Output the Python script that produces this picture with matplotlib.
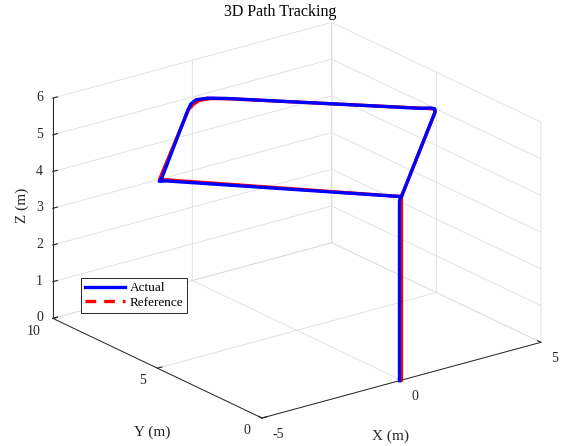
import numpy as np
import matplotlib
matplotlib.use('Agg')
import matplotlib.pyplot as plt
from matplotlib.lines import Line2D
from mpl_toolkits.mplot3d import proj3d

# ---------------- data ----------------
ref_x = [0.00, 0.00, 4.80, 4.95, 4.82, 0.75, 0.35, 0.00, -0.32, -0.70, -4.70, 0.00]
ref_y = [0.00, 0.00, 4.80, 5.02, 5.18, 9.25, 9.58, 9.66, 9.52, 9.25, 5.30, 0.00]
ref_z = [0.00, 5.00, 5.00, 5.00, 5.00, 5.00, 5.00, 5.00, 5.00, 5.00, 5.00, 5.00]

act_x = [-0.07, -0.07, -0.05, 0.05, 4.84, 4.97, 4.91, 4.70, 0.70, 0.30, -0.05, -0.38, -0.75, -4.58, -4.80, -4.62, -0.10, 0.00]
act_y = [0.00, 0.00, 0.00, 0.05, 4.84, 5.04, 5.17, 5.28, 9.32, 9.66, 9.76, 9.57, 9.22, 5.35, 5.18, 5.08, 0.10, 0.00]
act_z = [0.00, 4.85, 4.97, 5.00, 5.00, 5.00, 5.00, 5.00, 5.00, 5.00, 5.00, 5.00, 5.00, 5.00, 5.00, 5.00, 5.00, 5.00]

x_ticks = [-5, 0, 5]
y_ticks = [0, 5, 10]
z_ticks = [0, 1, 2, 3, 4, 5, 6]
x_ticklabels = ['-5', '0', '5']
y_ticklabels = ['0', '5', '10']
z_ticklabels = ['0', '1', '2', '3', '4', '5', '6']

# ---------------- style ----------------
plt.rcParams['font.family'] = ['Liberation Serif', 'DejaVu Serif']
plt.rcParams['axes.unicode_minus'] = False
plt.rcParams['grid.color'] = '#dedede'
plt.rcParams['grid.linewidth'] = 0.6
plt.rcParams['axes3d.automargin'] = False

W, H = 561, 446
TXT = '#262626'
fig = plt.figure(figsize=(W / 100, H / 100), dpi=100)
ax = fig.add_axes([0.05, 0.05, 0.9, 0.9], projection='3d', proj_type='ortho')
ax.computed_zorder = False
ax.view_init(elev=21.07, azim=-127.05)
ax.set_box_aspect((1.48, 1.47, 1.0))

ax.plot(ref_x, ref_y, ref_z, color='#ff0000', lw=2.4, zorder=2)
ax.plot(act_x, act_y, act_z, color='#0000ff', lw=2.4, zorder=3)

ax.set_xlim(-5, 5)
ax.set_ylim(0, 10)
ax.set_zlim(0, 6)
ax.set_xticks(x_ticks, labels=x_ticklabels)
ax.set_yticks(y_ticks, labels=y_ticklabels)
ax.set_zticks(z_ticks, labels=z_ticklabels)

for axis in (ax.xaxis, ax.yaxis, ax.zaxis):
    axis.set_pane_color((1, 1, 1, 0))
    axis.pane.set_edgecolor((1, 1, 1, 0))
    axis.line.set_color(TXT)
    axis.line.set_linewidth(0.7)
    axis._axinfo['tick']['inward_factor'] = 0.0
    axis._axinfo['tick']['outward_factor'] = 0.2
    axis._axinfo['grid']['color'] = '#dedede'
    axis._axinfo['grid']['linewidth'] = 0.6

ax.tick_params(axis='x', colors=TXT, labelsize=10, pad=2)
ax.tick_params(axis='y', colors=TXT, labelsize=10, pad=0.5)
ax.tick_params(axis='z', colors=TXT, labelsize=10, pad=-4)

for t in ax.xaxis.get_major_ticks():
    t.label1.set_ha('left')
    t.label1.set_va('center')
for t in ax.yaxis.get_major_ticks():
    t.label1.set_ha('right')
    t.label1.set_va('center')
for t in ax.zaxis.get_major_ticks():
    t.label1.set_ha('right')
    t.label1.set_va('center')

# ---------------- fit plot box to target pixel layout ----------------
fig.canvas.draw()
cx = np.array([-5, 5, -5, 5, -5, 5, -5, 5], float)
cy = np.array([0, 0, 10, 10, 0, 0, 10, 10], float)
cz = np.array([0, 0, 0, 0, 6, 6, 6, 6], float)
xs, ys, _ = proj3d.proj_transform(cx, cy, cz, ax.get_proj())
pix = ax.transData.transform(np.column_stack([xs, ys]))
pos = ax.get_position()
p0 = np.array([pos.x0 * W, pos.y0 * H])
L = pos.width * W
r = (pix[0] - p0) / L
w0 = pix[:, 0].max() - pix[:, 0].min()
s = 488.0 / w0
L2 = s * L
target_front = np.array([262.0, H - 418.0])
p02 = target_front - r * L2
ax.set_position([p02[0] / W, p02[1] / H, L2 / W, L2 / H])

# ---------------- titles and axis labels ----------------
fig.text(280.5 / W, 1 - 12 / H, '3D Path Tracking', ha='center', va='center',
         fontsize=11.5, color='black')
fig.text(390 / W, 1 - 436 / H, 'X (m)', ha='center', va='center', fontsize=11, color=TXT)
fig.text(152 / W, 1 - 432 / H, 'Y (m)', ha='center', va='center', fontsize=11, color=TXT)
fig.text(22 / W, 1 - 205 / H, 'Z (m)', ha='center', va='center', fontsize=11,
         color=TXT, rotation=90)

h_act = Line2D([], [], color='#0000ff', lw=2.4)
h_ref = Line2D([], [], color='#ff0000', lw=2.4, ls=(0, (3.2, 2.4)))
leg = ax.legend(handles=[h_act, h_ref], labels=['Actual', 'Reference'], loc='lower left',
                bbox_to_anchor=(81 / W, (H - 313) / H), bbox_transform=fig.transFigure,
                borderaxespad=0, fancybox=False, framealpha=1, edgecolor=TXT,
                fontsize=9.5, handlelength=3.0, labelspacing=0.2, borderpad=0.3,
                handletextpad=0.4)
leg.get_frame().set_linewidth(0.7)

fig.savefig('out.png', dpi=100)
